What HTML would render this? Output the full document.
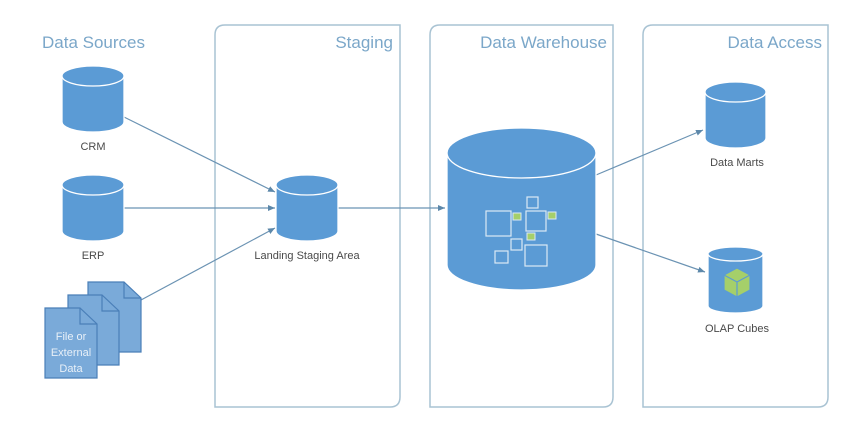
<!DOCTYPE html>
<html><head><style>
body{margin:0;background:#fff;}
svg{display:block;font-family:"Liberation Sans",sans-serif;}
</style></head><body>
<svg width="865" height="441" viewBox="0 0 865 441" xmlns="http://www.w3.org/2000/svg">
<defs>
<marker id="a" markerWidth="8" markerHeight="8" refX="7" refY="4" orient="auto" markerUnits="userSpaceOnUse"><path d="M0,1 L7,4 L0,7 z" fill="#5d88aa"/></marker>
</defs>
<rect width="865" height="441" fill="#fff"/>
<!-- panels -->
<g fill="none" stroke="#a9c3d3" stroke-width="1.5">
<path d="M225,25 H400 V397 Q400,407 390,407 H215 V35 Q215,25 225,25 Z"/>
<path d="M440,25 H613 V397 Q613,407 603,407 H430 V35 Q430,25 440,25 Z"/>
<path d="M653,25 H828 V397 Q828,407 818,407 H643 V35 Q643,25 653,25 Z"/>
</g>
<g fill="#7ba7c9" font-size="17">
<text x="42" y="48">Data Sources</text>
<text x="393" y="48" text-anchor="end">Staging</text>
<text x="607" y="48" text-anchor="end">Data Warehouse</text>
<text x="822" y="48" text-anchor="end">Data Access</text>
</g>
<!-- arrows -->
<g stroke="#6b93b3" stroke-width="1.2" fill="none" marker-end="url(#a)">
<line x1="124" y1="117" x2="275" y2="192"/>
<line x1="124" y1="208" x2="275" y2="208"/>
<line x1="141" y1="300" x2="275" y2="228"/>
<line x1="338" y1="208" x2="445" y2="208"/>
<line x1="596" y1="175" x2="703" y2="130"/>
<line x1="596" y1="234" x2="705" y2="272"/>
</g>
<!-- cylinders -->
<g fill="#5b9bd5" stroke="#fff" stroke-width="1.3">
<path d="M62,76 V122 A31,10 0 0 0 124,122 V76 Z"/><ellipse cx="93" cy="76" rx="31" ry="10"/>
<path d="M62,185 V231 A31,10 0 0 0 124,231 V185 Z"/><ellipse cx="93" cy="185" rx="31" ry="10"/>
<path d="M276,185 V231 A31,10 0 0 0 338,231 V185 Z"/><ellipse cx="307" cy="185" rx="31" ry="10"/>
<path d="M447,153 V265 A74.5,25 0 0 0 596,265 V153 Z"/><ellipse cx="521.5" cy="153" rx="74.5" ry="25"/>
<path d="M705,92 V138 A30.5,10 0 0 0 766,138 V92 Z"/><ellipse cx="735.5" cy="92" rx="30.5" ry="10"/>
<path d="M708,254 V306 A27.5,7 0 0 0 763,306 V254 Z"/><ellipse cx="735.5" cy="254" rx="27.5" ry="7"/>
</g>
<!-- squares -->
<g fill="none" stroke="#dbe9f5" stroke-width="1.2">
<rect x="486" y="211" width="25" height="25"/>
<rect x="527" y="197" width="11" height="11"/>
<rect x="526" y="211" width="20" height="20"/>
<rect x="511" y="239" width="11" height="11"/>
<rect x="495" y="251" width="13" height="12"/>
<rect x="525" y="245" width="22" height="21"/>
</g>
<g fill="#a5cf6a" stroke="#dbe9f5" stroke-width="1">
<rect x="513" y="213" width="8" height="7"/>
<rect x="548" y="212" width="8" height="7"/>
<rect x="527" y="233" width="8" height="7"/>
</g>
<!-- cube -->
<g stroke="#5b9bd5" stroke-width="1.2" fill="#a5cf6a">
<path d="M737,268 L750,275 L750,290 L737,297 L724,290 L724,275 Z"/>
<path d="M724,275 L737,282 L750,275 M737,282 V297" fill="none"/>
</g>
<!-- files -->
<g fill="#7aaad9" stroke="#4a7fb8" stroke-width="1.2">
<path d="M88,282 H124 L141,298 V352 H88 Z"/><path d="M124,282 V298 H141" fill="none"/>
<path d="M68,295 H102 L119,311 V365 H68 Z"/><path d="M102,295 V311 H119" fill="none"/>
<path d="M45,308 H80 L97,324 V378 H45 Z"/><path d="M80,308 V324 H97" fill="none"/>
</g>
<g fill="#e8f0f8" font-size="11" text-anchor="middle">
<text x="71" y="340">File or</text>
<text x="71" y="356">External</text>
<text x="71" y="372">Data</text>
</g>
<g fill="#4a4a4a" font-size="11" text-anchor="middle">
<text x="93" y="150">CRM</text>
<text x="93" y="259">ERP</text>
<text x="307" y="259">Landing Staging Area</text>
<text x="737" y="166">Data Marts</text>
<text x="737" y="332">OLAP Cubes</text>
</g>
</svg>
</body></html>
